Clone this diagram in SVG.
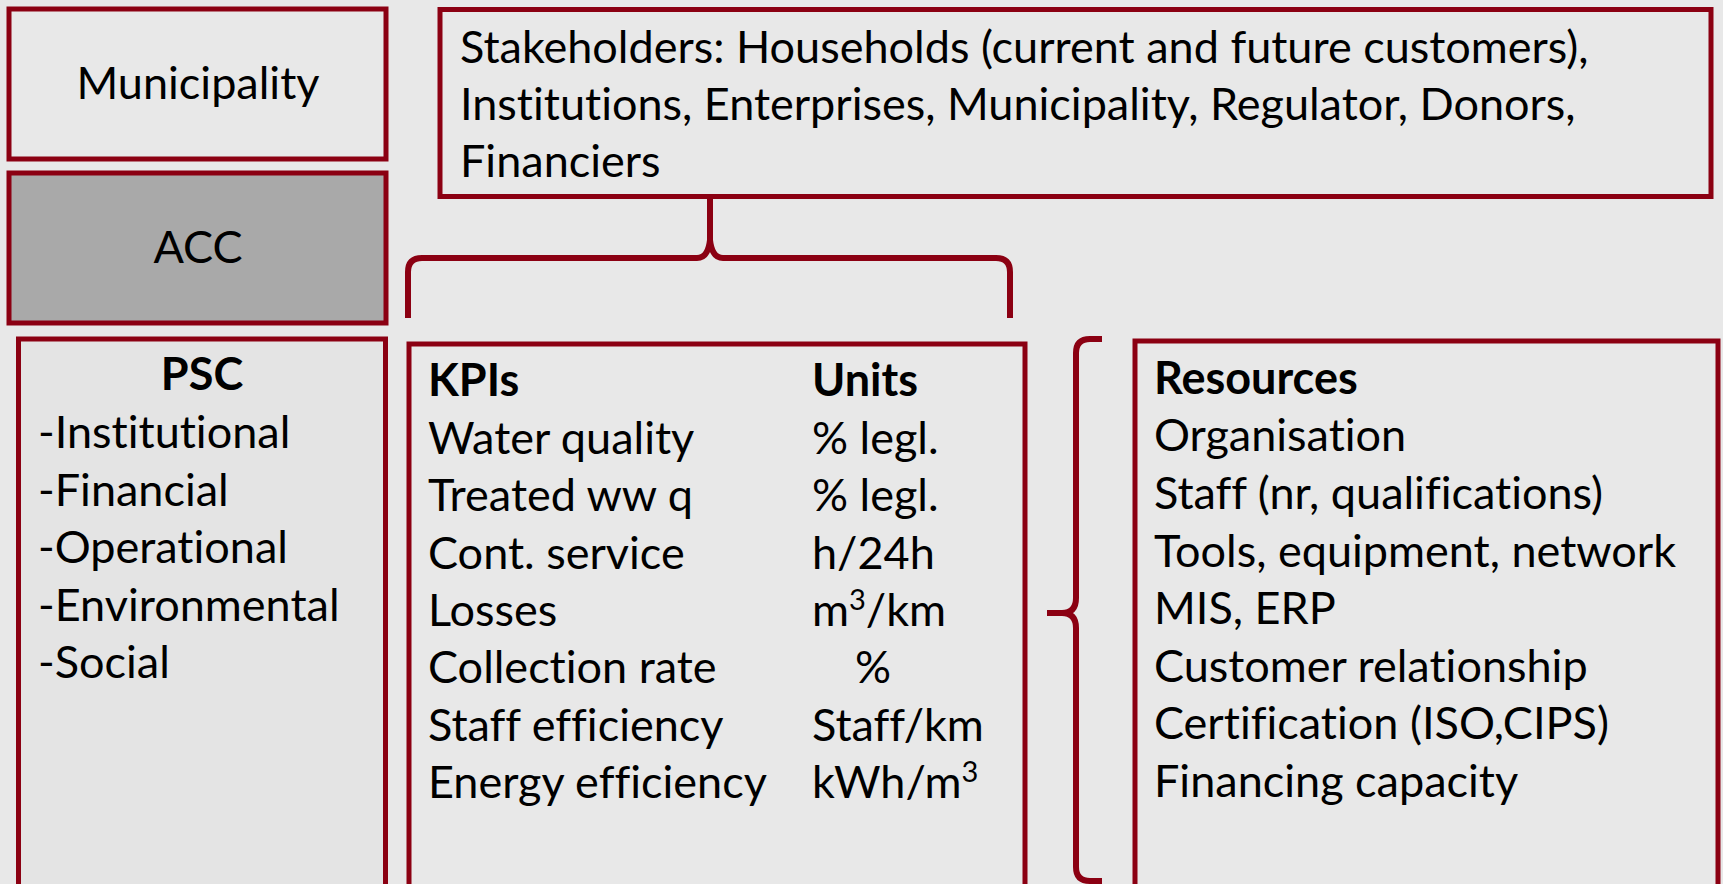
<svg xmlns="http://www.w3.org/2000/svg" width="1723" height="884" viewBox="0 0 1723 884">
  <style>
    .box { stroke: #8b0012; stroke-width: 5; }
    .plain { fill: #e8e8e8; }
    .shade { fill: #a9a9a9; }
    .panel { fill: #e4e4e4; }
    .brace { fill: none; stroke: #8b0012; stroke-width: 6; stroke-linejoin: round; }
    text { font-family: Lato, "Open Sans", "Liberation Sans", sans-serif; font-size: 45px; fill: #000; font-variant-ligatures: none; }
    .bold { font-weight: bold; }
    .mid { text-anchor: middle; }
  </style>
  <rect width="1723" height="884" fill="#e8e8e8"/>

  <g id="municipality">
    <rect class="box plain" x="9" y="9" width="377" height="150"/>
    <text class="mid" x="198" y="99">Municipality</text>
  </g>

  <g id="acc">
    <rect class="box shade" x="9" y="173" width="377" height="150"/>
    <text class="mid" x="198" y="263">ACC</text>
  </g>

  <g id="stakeholders">
    <rect class="box plain" x="440" y="9.5" width="1271" height="187"/>
    <text x="460" y="63">Stakeholders: Households (current and future customers),</text>
    <text x="460" y="120">Institutions, Enterprises, Municipality, Regulator, Donors,</text>
    <text x="460" y="177">Financiers</text>
  </g>

  <g id="psc">
    <rect class="box panel" x="18.5" y="339" width="367" height="560"/>
    <text class="bold mid" x="202" y="390">PSC</text>
    <text x="38" y="448">-Institutional</text>
    <text x="38" y="505.5">-Financial</text>
    <text x="38" y="563">-Operational</text>
    <text x="38" y="620.5">-Environmental</text>
    <text x="38" y="678">-Social</text>
  </g>

  <g id="kpis">
    <rect class="box plain" x="409" y="344" width="616" height="560"/>
    <text class="bold" x="428" y="396">KPIs</text>
    <text class="bold" x="812" y="396">Units</text>
    <text x="428" y="454">Water quality</text>
    <text x="812" y="454">% legl.</text>
    <text x="428" y="511">Treated ww q</text>
    <text x="812" y="511">% legl.</text>
    <text x="428" y="568.5">Cont. service</text>
    <text x="812" y="568.5">h/24h</text>
    <text x="428" y="626">Losses</text>
    <text x="812" y="626">m<tspan dy="-16" font-size="29">3</tspan><tspan dy="16">/km</tspan></text>
    <text x="428" y="683">Collection rate</text>
    <text x="855" y="683">%</text>
    <text x="428" y="740.5">Staff efficiency</text>
    <text x="812" y="740.5">Staff/km</text>
    <text x="428" y="798">Energy efficiency</text>
    <text x="812" y="798">kWh/m<tspan dy="-16" font-size="29">3</tspan></text>
  </g>

  <g id="resources">
    <rect class="box plain" x="1135" y="341" width="583" height="560"/>
    <text class="bold" x="1154" y="394">Resources</text>
    <text x="1154" y="451">Organisation</text>
    <text x="1154" y="509">Staff (nr, qualifications)</text>
    <text x="1154" y="567">Tools, equipment, network</text>
    <text x="1154" y="624">MIS, ERP</text>
    <text x="1154" y="681.5">Customer relationship</text>
    <text x="1154" y="739">Certification (ISO,CIPS)</text>
    <text x="1154" y="796.5">Financing capacity</text>
  </g>

  <g id="connectors">
    <!-- brace grouping the KPI panel under the stakeholders -->
    <path class="brace" d="M408,318 V272 Q408,258 422,258 H697 Q708,258 710,240 V195 M710,240 Q712,258 723,258 H996 Q1010,258 1010,272 V318"/>
    <!-- brace linking the KPI panel to the resources -->
    <path class="brace" d="M1102,339 H1090 Q1076,339 1076,353 V598 Q1076,613 1062,613 H1047 M1062,613 Q1076,613 1076,628 V867 Q1076,881 1090,881 H1102"/>
  </g>
</svg>
